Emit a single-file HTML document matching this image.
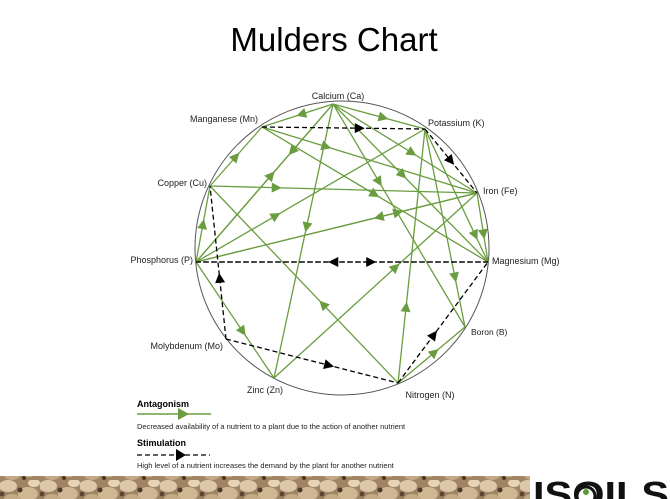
<!DOCTYPE html>
<html><head><meta charset="utf-8"><style>
html,body{margin:0;padding:0;background:#fff;}
body{width:670px;height:499px;overflow:hidden;position:relative;font-family:"Liberation Sans",sans-serif;}
svg{position:absolute;left:0;top:0;}
</style></head><body>
<svg id="s" width="670" height="499" xmlns="http://www.w3.org/2000/svg">
<defs>
<pattern id="rock" width="40" height="24" patternUnits="userSpaceOnUse">
<rect width="40" height="24" fill="#a08464"/>
<ellipse cx="8" cy="6" rx="9" ry="6" fill="#dcc7a8"/>
<ellipse cx="28" cy="14" rx="10" ry="7" fill="#cfb794"/>
<ellipse cx="12" cy="19" rx="8" ry="5" fill="#c4a985"/>
<ellipse cx="34" cy="3" rx="6" ry="4" fill="#e6d4b8"/>
<circle cx="20" cy="10" r="2.5" fill="#4a3828"/>
<circle cx="2" cy="14" r="2.5" fill="#5b4634"/>
<circle cx="24" cy="22" r="2" fill="#4a3828"/>
</pattern>
</defs>
<text x="334" y="51" font-size="33" text-anchor="middle" fill="#000">Mulders Chart</text>
<circle cx="342" cy="248" r="147" fill="none" stroke="#555" stroke-width="1"/>
<g id="edges"></g>
<g font-size="9" fill="#222">
<text x="338" y="99" text-anchor="middle">Calcium (Ca)</text>
<text x="258" y="122" text-anchor="end">Manganese (Mn)</text>
<text x="428" y="126">Potassium (K)</text>
<text x="207" y="186" text-anchor="end">Copper (Cu)</text>
<text x="483" y="194">Iron (Fe)</text>
<text x="193" y="263" text-anchor="end">Phosphorus (P)</text>
<text x="492" y="264">Magnesium (Mg)</text>
<text x="223" y="349" text-anchor="end">Molybdenum (Mo)</text>
<text x="471" y="335" font-size="8.5">Boron (B)</text>
<text x="265" y="393" text-anchor="middle">Zinc (Zn)</text>
<text x="430" y="398" text-anchor="middle">Nitrogen (N)</text>
</g>
<text x="137" y="407" font-size="9" font-weight="bold">Antagonism</text>
<line x1="137" y1="414" x2="211" y2="414" stroke="#6a9d3f" stroke-width="1.5"/>
<polygon points="178,408 189,414 178,420" fill="#6a9d3f"/>
<text x="137" y="429" font-size="7.5" fill="#222">Decreased availability of a nutrient to a plant due to the action of another nutrient</text>
<text x="137" y="446" font-size="9" font-weight="bold">Stimulation</text>
<line x1="137" y1="455" x2="210" y2="455" stroke="#000" stroke-width="1.3" stroke-dasharray="5,3"/>
<polygon points="176,449 186,455 176,461" fill="#000"/>
<text x="137" y="468" font-size="7.5" fill="#222">High level of a nutrient increases the demand by the plant for another nutrient</text>
<rect x="0" y="476" width="530" height="23" fill="url(#rock)"/>
<text x="533" y="507" font-size="36" font-weight="bold" fill="#111" textLength="136" lengthAdjust="spacingAndGlyphs">ISOILS</text>
<circle cx="586" cy="496" r="9" fill="#fff" stroke="#111" stroke-width="3"/>
<circle cx="586" cy="492" r="3" fill="#5a9a3a"/>
</svg>
<script>
var N={Ca:[333,104],Mn:[262,127],K:[425,129],Cu:[210,186],Fe:[477,193],P:[196,262],Mg:[488,262],Mo:[226,339],Zn:[274,378],N:[398,383],B:[465,327]};
var G="#6a9d3f";
var E=[
['Ca','Mn',0.45,G],['Ca','K',0.55,G],['Ca','Fe',0.55,G],['Ca','Mg',0.45,G],['Ca','B',0.35,G],
['Ca','Zn',0.45,G],['Ca','P',0.3,G],['P','Ca',0.55,G],['Mn','Fe',0.3,G],['Cu','Mn',0.5,G],
['Cu','Fe',0.25,G],['N','Cu',0.4,G],['P','Cu',0.5,G],['P','K',0.35,G],['K','B',0.75,G],
['N','K',0.3,G],['K','Mg',0.8,G],['Fe','P',0.35,G],['P','Fe',0.72,G],['Zn','Fe',0.6,G],
['Fe','Mg',0.6,G],['P','Zn',0.6,G],['N','B',0.55,G],['Mn','Mg',0.5,G],
['Mn','K',0.6,'#000',1],['K','Fe',0.5,'#000',1],['Mg','P',0.53,'#000',1],['P','Mg',0.6,'#000',1],
['Mo','Cu',0.4,'#000',1],['Mo','N',0.6,'#000',1],['N','Mg',0.4,'#000',1]];
var g=document.getElementById('edges'),s='';
E.forEach(function(e){var a=N[e[0]],b=N[e[1]];var dx=b[0]-a[0],dy=b[1]-a[1],L=Math.hypot(dx,dy),ux=dx/L,uy=dy/L;
s+='<line x1="'+a[0]+'" y1="'+a[1]+'" x2="'+b[0]+'" y2="'+b[1]+'" stroke="'+e[3]+'" stroke-width="1.3"'+(e[4]?' stroke-dasharray="5,3"':'')+'/>';
var px=a[0]+dx*e[2],py=a[1]+dy*e[2];var h=10,w=5;
var tx=px+ux*h/2,ty=py+uy*h/2,bx=px-ux*h/2,by=py-uy*h/2;
s+='<polygon points="'+tx+','+ty+' '+(bx-uy*w)+','+(by+ux*w)+' '+(bx+uy*w)+','+(by-ux*w)+'" fill="'+e[3]+'"/>';});
g.innerHTML=s;
</script>
</body></html>
